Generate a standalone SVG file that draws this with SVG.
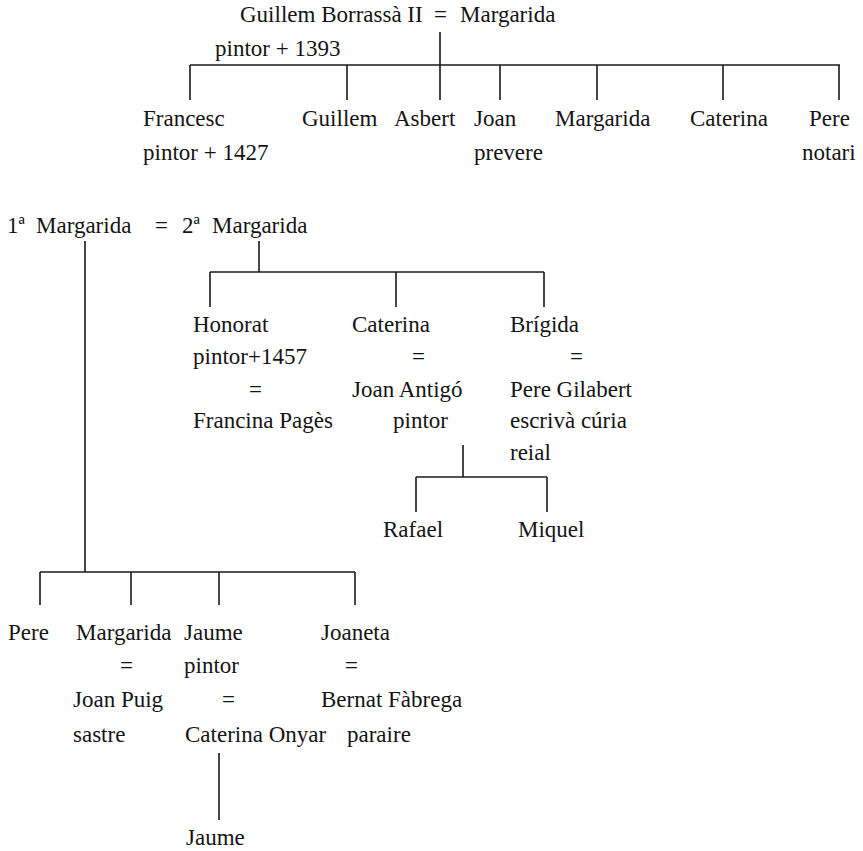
<svg xmlns="http://www.w3.org/2000/svg" width="863" height="851" viewBox="0 0 863 851">
<style>
text{font-family:"Liberation Serif","Times New Roman",serif;font-size:23px;fill:#141414}
.c line{stroke:#1a1a1a;stroke-width:1.6;fill:none}
</style>
<rect width="863" height="851" fill="#fff"/>
<g class="c" id="connectors">
<line x1="440" y1="32" x2="440" y2="100"/>
<line x1="190" y1="65" x2="840" y2="65"/>
<line x1="190" y1="65" x2="190" y2="100"/>
<line x1="347" y1="65" x2="347" y2="100"/>
<line x1="500" y1="65" x2="500" y2="100"/>
<line x1="597" y1="65" x2="597" y2="100"/>
<line x1="723" y1="65" x2="723" y2="100"/>
<line x1="839" y1="65" x2="839" y2="100"/>
<line x1="85" y1="241" x2="85" y2="572"/>
<line x1="259" y1="241" x2="259" y2="272"/>
<line x1="210" y1="272" x2="544" y2="272"/>
<line x1="210" y1="272" x2="210" y2="307"/>
<line x1="396" y1="272" x2="396" y2="307"/>
<line x1="544" y1="272" x2="544" y2="307"/>
<line x1="463" y1="445" x2="463" y2="477"/>
<line x1="416" y1="477" x2="547" y2="477"/>
<line x1="416" y1="477" x2="416" y2="512"/>
<line x1="547" y1="477" x2="547" y2="512"/>
<line x1="40" y1="572" x2="355" y2="572"/>
<line x1="40" y1="572" x2="40" y2="605"/>
<line x1="131" y1="572" x2="131" y2="605"/>
<line x1="219" y1="572" x2="219" y2="605"/>
<line x1="355" y1="572" x2="355" y2="605"/>
<line x1="219" y1="753" x2="219" y2="820"/>
</g>
<g id="guillem-ii"><text x="240" y="22">Guillem Borrassà II</text><text x="215" y="56">pintor + 1393</text></g>
<g id="marriage-top"><text x="434" y="22">=</text></g>
<g id="margarida-top"><text x="460" y="22">Margarida</text></g>
<g id="francesc"><text x="143" y="126">Francesc</text><text x="143" y="160">pintor + 1427</text></g>
<g id="guillem"><text x="302" y="126">Guillem</text></g>
<g id="asbert"><text x="394" y="126">Asbert</text></g>
<g id="joan"><text x="474" y="126">Joan</text><text x="474" y="160">prevere</text></g>
<g id="margarida-child"><text x="555" y="126">Margarida</text></g>
<g id="caterina-child"><text x="690" y="126">Caterina</text></g>
<g id="pere-child"><text x="809" y="126">Pere</text><text x="802" y="160">notari</text></g>
<g id="margarida-1"><text x="7" y="233">1ª<tspan x="36">Margarida</tspan></text></g>
<g id="marriage-2"><text x="155" y="233">=</text></g>
<g id="margarida-2"><text x="182" y="233">2ª<tspan x="212">Margarida</tspan></text></g>
<g id="honorat"><text x="193" y="332">Honorat</text><text x="193" y="364">pintor+1457</text><text x="249" y="397">=</text><text x="193" y="428">Francina Pagès</text></g>
<g id="caterina"><text x="352" y="332">Caterina</text><text x="412" y="364">=</text><text x="352" y="397">Joan Antigó</text><text x="393" y="428">pintor</text></g>
<g id="brigida"><text x="510" y="332">Brígida</text><text x="570" y="364">=</text><text x="510" y="397">Pere Gilabert</text><text x="510" y="428">escrivà cúria</text><text x="510" y="460">reial</text></g>
<g id="rafael"><text x="383" y="537">Rafael</text></g>
<g id="miquel"><text x="518" y="537">Miquel</text></g>
<g id="pere"><text x="8" y="640">Pere</text></g>
<g id="margarida"><text x="76" y="640">Margarida</text><text x="120" y="673">=</text><text x="73" y="707">Joan Puig</text><text x="73" y="742">sastre</text></g>
<g id="jaume"><text x="184" y="640">Jaume</text><text x="184" y="673">pintor</text><text x="222" y="707">=</text><text x="185" y="742">Caterina Onyar</text></g>
<g id="joaneta"><text x="321" y="640">Joaneta</text><text x="345" y="673">=</text><text x="321" y="707">Bernat Fàbrega</text><text x="347" y="742">paraire</text></g>
<g id="jaume-jr"><text x="186" y="845">Jaume</text></g>
</svg>
